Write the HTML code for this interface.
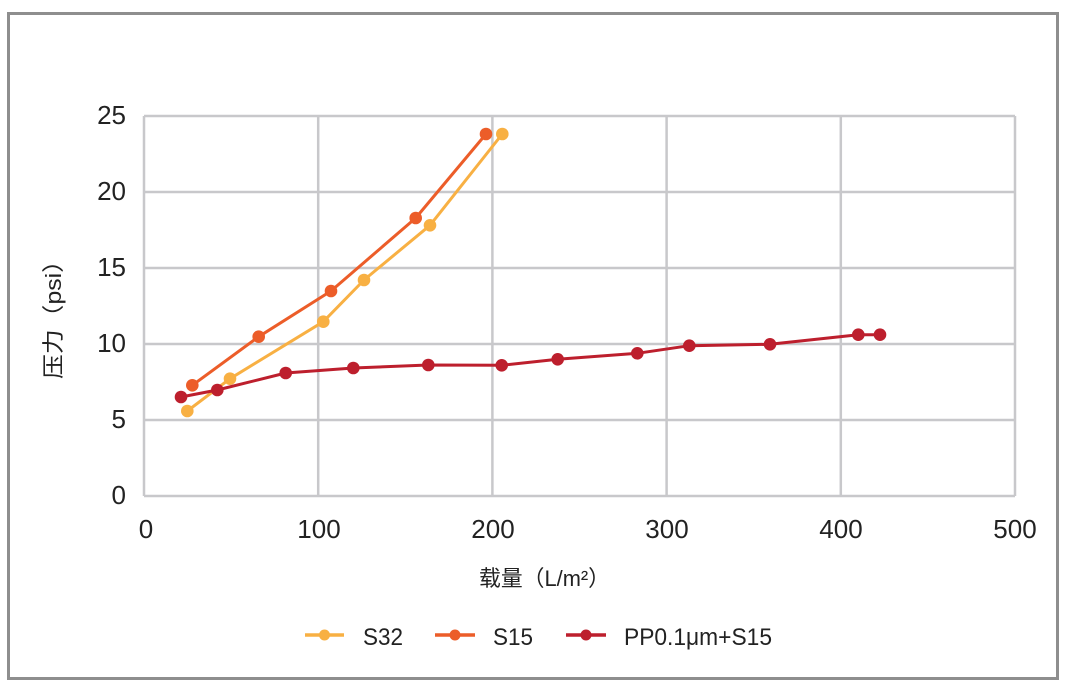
<!DOCTYPE html>
<html><head><meta charset="utf-8"><style>
html,body{margin:0;padding:0;background:#fff;}
svg{display:block;}
text{font-family:"Liberation Sans","Noto Sans CJK SC",sans-serif;fill:#222;}
</style></head><body>
<svg width="1080" height="687" viewBox="0 0 1080 687" xmlns="http://www.w3.org/2000/svg">
<rect x="0" y="0" width="1080" height="687" fill="#fff"/>
<rect x="8.5" y="13.5" width="1049" height="665" fill="#fff" stroke="#8e8e8e" stroke-width="3"/>
<g stroke="#c8c8cb" stroke-width="2.5" fill="none">
<line x1="144" y1="116" x2="1015" y2="116"/>
<line x1="144" y1="192" x2="1015" y2="192"/>
<line x1="144" y1="268" x2="1015" y2="268"/>
<line x1="144" y1="344" x2="1015" y2="344"/>
<line x1="144" y1="420" x2="1015" y2="420"/>
<line x1="144" y1="496" x2="1015" y2="496"/>
<line x1="144" y1="116" x2="144" y2="496"/>
<line x1="318.2" y1="116" x2="318.2" y2="496"/>
<line x1="492.4" y1="116" x2="492.4" y2="496"/>
<line x1="666.6" y1="116" x2="666.6" y2="496"/>
<line x1="840.8" y1="116" x2="840.8" y2="496"/>
<line x1="1015" y1="116" x2="1015" y2="496"/>
</g>
<g font-size="26" text-anchor="end">
<text x="126" y="124">25</text>
<text x="126" y="200">20</text>
<text x="126" y="276">15</text>
<text x="126" y="352">10</text>
<text x="126" y="428">5</text>
<text x="126" y="504">0</text>
</g>
<g font-size="26" text-anchor="middle">
<text x="146" y="538">0</text>
<text x="319" y="538">100</text>
<text x="493" y="538">200</text>
<text x="667" y="538">300</text>
<text x="841" y="538">400</text>
<text x="1015" y="538">500</text>
</g>
<text x="479" y="586" font-size="22" textLength="131" lengthAdjust="spacingAndGlyphs">载量（L/m²）</text>
<text transform="translate(61,379) rotate(-90)" font-size="22" textLength="131" lengthAdjust="spacingAndGlyphs">压力（psi）</text>
<!-- S32 -->
<g stroke="#f8b043" stroke-width="3" fill="none" stroke-linejoin="round">
<polyline points="187.3,411 230,378.7 323.3,321.7 364,280 430,225.3 502.3,134"/>
</g>
<g fill="#f8b043">
<circle cx="187.3" cy="411" r="6.3"/><circle cx="230" cy="378.7" r="6.3"/><circle cx="323.3" cy="321.7" r="6.3"/><circle cx="364" cy="280" r="6.3"/><circle cx="430" cy="225.3" r="6.3"/><circle cx="502.3" cy="134" r="6.3"/>
</g>
<!-- S15 -->
<g stroke="#ec5d29" stroke-width="3" fill="none" stroke-linejoin="round">
<polyline points="192.3,385.3 258.7,336.7 331,291 415.7,218 486,134"/>
</g>
<g fill="#ec5d29">
<circle cx="192.3" cy="385.3" r="6.3"/><circle cx="258.7" cy="336.7" r="6.3"/><circle cx="331" cy="291" r="6.3"/><circle cx="415.7" cy="218" r="6.3"/><circle cx="486" cy="134" r="6.3"/>
</g>
<!-- PP -->
<g stroke="#bd1f2d" stroke-width="3" fill="none" stroke-linejoin="round">
<polyline points="181,397 217.3,390 285.7,373 353.3,368 428.3,365 501.7,365.3 557.7,359.3 637.3,353.3 689.3,345.7 770,344.3 858.3,334.7 880,334.7"/>
</g>
<g fill="#bd1f2d">
<circle cx="181" cy="397" r="6.3"/><circle cx="217.3" cy="390" r="6.3"/><circle cx="285.7" cy="373" r="6.3"/><circle cx="353.3" cy="368" r="6.3"/><circle cx="428.3" cy="365" r="6.3"/><circle cx="501.7" cy="365.3" r="6.3"/><circle cx="557.7" cy="359.3" r="6.3"/><circle cx="637.3" cy="353.3" r="6.3"/><circle cx="689.3" cy="345.7" r="6.3"/><circle cx="770" cy="344.3" r="6.3"/><circle cx="858.3" cy="334.7" r="6.3"/><circle cx="880" cy="334.7" r="6.3"/>
</g>
<!-- legend -->
<line x1="305" y1="635" x2="344" y2="635" stroke="#f8b043" stroke-width="3.5"/>
<circle cx="324.5" cy="635" r="5.5" fill="#f8b043"/>
<text x="363" y="645" font-size="24" textLength="40" lengthAdjust="spacingAndGlyphs">S32</text>
<line x1="435" y1="635" x2="475" y2="635" stroke="#ec5d29" stroke-width="3.5"/>
<circle cx="455" cy="635" r="5.5" fill="#ec5d29"/>
<text x="493" y="645" font-size="24" textLength="40" lengthAdjust="spacingAndGlyphs">S15</text>
<line x1="566" y1="635" x2="606" y2="635" stroke="#bd1f2d" stroke-width="3.5"/>
<circle cx="586" cy="635" r="5.5" fill="#bd1f2d"/>
<text x="624" y="645" font-size="24" textLength="148" lengthAdjust="spacingAndGlyphs">PP0.1μm+S15</text>
</svg>
</body></html>
